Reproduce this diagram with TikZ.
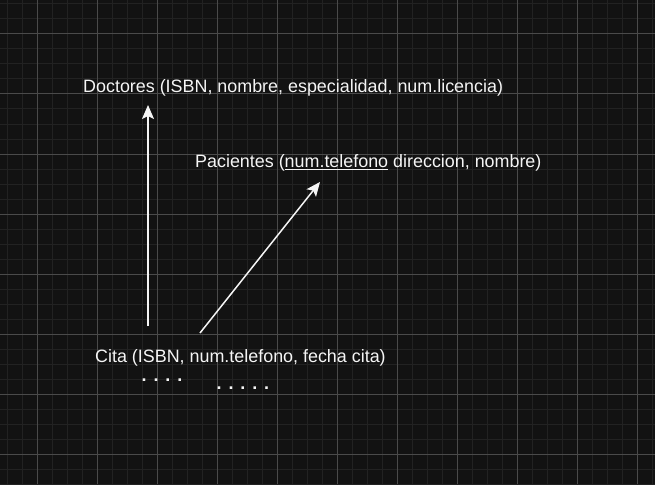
\documentclass[tikz,border=0pt]{standalone}
\usepackage{fontspec}
\setmainfont{Liberation Sans}
\usetikzlibrary{arrows.meta}
\definecolor{bgc}{HTML}{121212}
\definecolor{minorc}{HTML}{222222}
\definecolor{majorc}{HTML}{4A4A4A}
\definecolor{fgc}{HTML}{F5F5F5}
\tikzset{
  lbl/.style={anchor=base west, inner sep=0pt, text=fgc, font=\fontsize{17.9}{21}\selectfont},
  conn/.style={draw=fgc, line width=1.5pt, -{Stealth[length=14pt, width=12pt, inset=3pt]}},
}
\begin{document}
\begin{tikzpicture}[x=1pt, y=-1pt]
\useasboundingbox (0,0) rectangle (655,484);
\fill[bgc] (0,0) rectangle (655,484);
% minor grid
\foreach \i in {0,...,43} {
  \draw[minorc, line width=1pt] ({7+15*\i},0) -- ({7+15*\i},484);
}
\foreach \j in {0,...,32} {
  \draw[minorc, line width=1pt] (0,{4+15*\j}) -- (655,{4+15*\j});
}
% major grid
\foreach \i in {0,...,10} {
  \draw[majorc, line width=1pt] ({37+60*\i},0) -- ({37+60*\i},484);
}
\foreach \j in {0,...,7} {
  \draw[majorc, line width=1pt] (0,{34+60*\j}) -- (655,{34+60*\j});
}
% texts
\node[lbl] (doc) at (83,93) {Doctores (ISBN, nombre, especialidad, num.licencia)};
\node[lbl] (pac) at (195,167.5) {Pacientes (\underline{num.telefono} direccion, nombre)};
\node[lbl] (cita) at (95,362) {Cita (ISBN, num.telefono, fecha cita)};
\node[lbl, font=\fontsize{17.9}{21}\selectfont\bfseries] (dots1) at (141.5,381) {.\hspace{6.9pt}.\hspace{6.9pt}.\hspace{6.9pt}.};
\node[lbl, font=\fontsize{17.9}{21}\selectfont\bfseries] (dots2) at (216.5,389.5) {.\hspace{6.9pt}.\hspace{6.9pt}.\hspace{6.9pt}.\hspace{6.9pt}.};
% connectors
\coordinate (a1) at (148,326);
\coordinate (a1t) at (148,105);
\coordinate (a2) at (200,333);
\coordinate (a2t) at (320,182);
\draw[conn] (a1) -- (a1t);
\draw[conn] (a2) -- (a2t);
\end{tikzpicture}
\end{document}
